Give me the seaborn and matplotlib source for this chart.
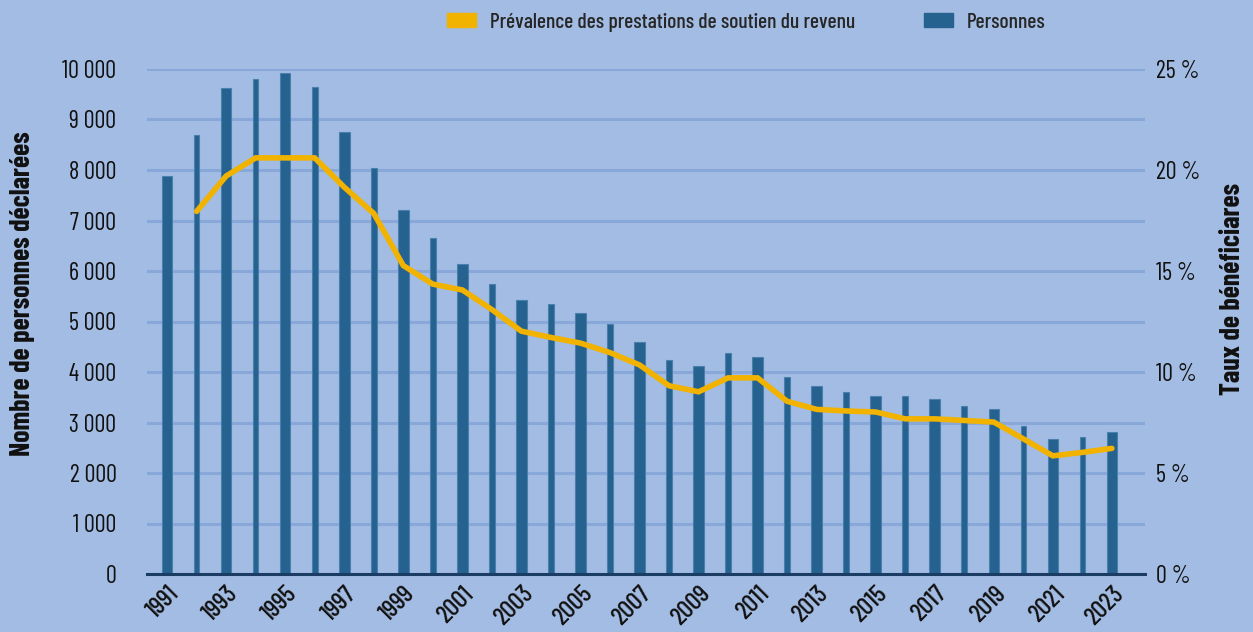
import numpy as np
import pandas as pd
import matplotlib
matplotlib.use("Agg")
import matplotlib.pyplot as plt
from matplotlib import font_manager
from matplotlib.patches import Patch
import seaborn as sns

years = list(range(1991, 2024))
personnes = [7880, 8690, 9620, 9800, 9920, 9640, 8750, 8040, 7210, 6650,
             6140, 5740, 5420, 5340, 5160, 4960, 4590, 4240, 4110, 4380,
             4290, 3900, 3720, 3610, 3520, 3520, 3470, 3330, 3270, 2930,
             2670, 2710, 2810]
prev_years = list(range(1992, 2024))
prevalence = [17.95, 19.7, 20.6, 20.6, 20.6, 19.15, 17.85, 15.27, 14.35, 14.06,
              13.09, 12.02, 11.71, 11.43, 10.96, 10.35, 9.32, 9.02, 9.71, 9.71,
              8.55, 8.15, 8.07, 8.02, 7.68, 7.68, 7.6, 7.52, 6.69, 5.85,
              6.02, 6.22]
left_ticks = list(range(0, 10001, 1000))
right_ticks = [0, 5, 10, 15, 20, 25]
tick_years = list(range(1991, 2024, 2))

label_left = "Nombre de personnes déclarées"
label_right = "Taux de bénéficiares"
legend_line = "Prévalence des prestations de soutien du revenu"
legend_bar = "Personnes"

BG = "#A3BCE3"
GRID = "#89A8DA"
BAR = "#26628F"
BAR_EDGE = "#4A80AE"
LINE = "#F2B200"
AXIS = "#1C3D63"
INK = "#111111"

sns.set_theme(style="white")

# pick a narrow sans family that has a bold weight
fonts = font_manager.fontManager.ttflist
def has(name, weight=None):
    return any(f.name == name and (weight is None or f.weight >= weight) for f in fonts)

FAMILY = "Liberation Sans"
for cand in ["Barlow Condensed", "Roboto Condensed", "Saira Condensed", "Archivo Narrow",
             "PT Sans Narrow", "Saira SemiCondensed", "Sofia Sans Condensed"]:
    if has(cand, 700):
        FAMILY = cand
        break
plt.rcParams["font.family"] = [FAMILY, "DejaVu Sans"]
MED = 500 if any(f.name == FAMILY and f.weight == 500 for f in fonts) else "normal"

df = pd.DataFrame({"annee": years, "personnes": personnes})
odd = df[df["annee"] % 2 == 1]
even = df[df["annee"] % 2 == 0]
prev = pd.DataFrame({"annee": prev_years, "prevalence": prevalence})

W, H = 1253, 632
fig = plt.figure(figsize=(W / 100, H / 100), dpi=100, facecolor=BG)
ax = fig.add_axes([147 / W, 1 - 574 / H, (1145 - 147) / W, (574 - 69) / H])
ax.set_facecolor(BG)

for y in left_ticks[1:]:
    ax.axhline(y, color=GRID, lw=2.2, zorder=0)

sns.barplot(data=odd, x="annee", y="personnes", native_scale=True, width=0.18,
            color=BAR, saturation=1, edgecolor=BAR_EDGE, linewidth=0.8, ax=ax, zorder=2)
sns.barplot(data=even, x="annee", y="personnes", native_scale=True, width=0.095,
            color=BAR, saturation=1, edgecolor=BAR_EDGE, linewidth=0.8, ax=ax, zorder=2)

ax.set_ylim(0, 10000)
ax.set_xlim(1991 - 0.68, 2023 + 1.12)
ax.set_yticks(left_ticks)
ax.set_yticklabels([f"{v:,}".replace(",", " ") for v in left_ticks],
                   fontsize=17.5, color=INK)
ax.set_xticks(tick_years)
ax.set_xticklabels([str(y) for y in tick_years], rotation=45, ha="right",
                   rotation_mode="anchor", fontsize=18.5, color=INK, fontweight=MED)
ax.tick_params(axis="y", length=0, pad=22)
ax.tick_params(axis="x", length=0, pad=6)
for s in ["top", "left", "right"]:
    ax.spines[s].set_visible(False)
ax.spines["bottom"].set_color(AXIS)
ax.spines["bottom"].set_linewidth(2.2)
ax.spines["bottom"].set_zorder(5)
ax.set_xlabel("")
ax.set_ylabel("")

ax2 = ax.twinx()
sns.lineplot(data=prev, x="annee", y="prevalence", color=LINE, lw=4, ax=ax2,
             solid_capstyle="round", solid_joinstyle="miter", zorder=4)
ax2.set_ylim(0, 25)
ax2.set_yticks(right_ticks)
ax2.set_yticklabels([f"{v} %" for v in right_ticks], fontsize=17.5, color=INK)
ax2.tick_params(axis="y", length=0, pad=8)
for s in ax2.spines.values():
    s.set_visible(False)
ax2.set_ylabel("")
ax2.set_xlabel("")

fig.text(23 / W, 1 - 294 / H, label_left, rotation=90, ha="center", va="center",
         fontsize=20, fontweight="bold", color=INK)
fig.text(1233 / W, 1 - 289 / H, label_right, rotation=90, ha="center", va="center",
         fontsize=20, fontweight="bold", color=INK)

handles = [Patch(facecolor=LINE, edgecolor=LINE), Patch(facecolor=BAR, edgecolor=BAR)]
fig.legend(handles, [legend_line, legend_bar], loc="center left",
           bbox_to_anchor=(447 / W, 1 - 22 / H), ncol=2, frameon=False,
           prop={"size": 15.5, "weight": MED}, handlelength=1.35, handleheight=0.65,
           columnspacing=3.2, handletextpad=0.65, borderpad=0, borderaxespad=0)

fig.savefig("out.png", dpi=100, facecolor=BG)
